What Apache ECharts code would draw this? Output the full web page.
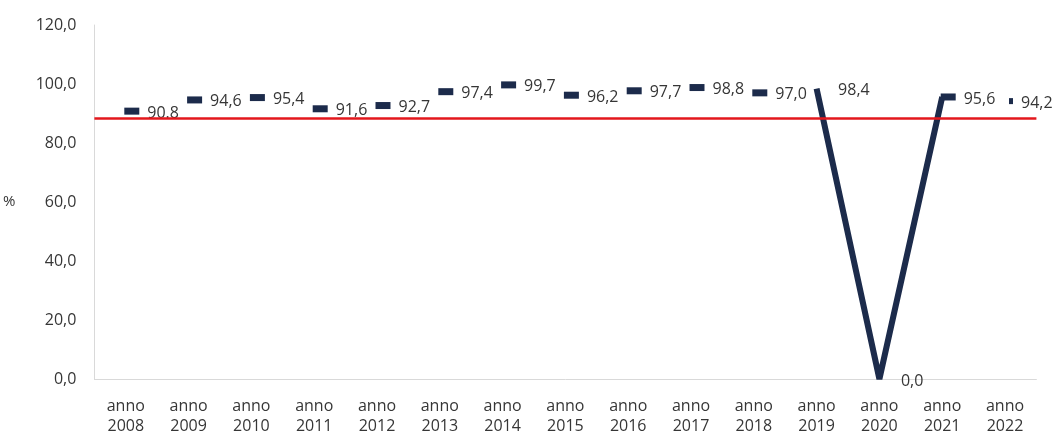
<!DOCTYPE html>
<html>
<head>
<meta charset="utf-8">
<script src="https://cdn.jsdelivr.net/npm/echarts@6/dist/echarts.min.js"></script>
<style>
  html, body { margin: 0; padding: 0; background: #ffffff; }
  #chart { width: 1059px; height: 436px; }
</style>
</head>
<body>
<div id="chart"></div>
<script>
// Yearly share (%) from 2008 to 2022, with a reference threshold
const years = ['2008', '2009', '2010', '2011', '2012', '2013', '2014', '2015',
               '2016', '2017', '2018', '2019', '2020', '2021', '2022'];
const values = [90.8, 94.6, 95.4, 91.6, 92.7, 97.4, 99.7, 96.2,
                97.7, 98.8, 97.0, 98.4, 0.0, 95.6, 94.2];
const valueLabels = ['90.8', '94,6', '95,4', '91,6', '92,7', '97,4', '99,7', '96,2',
                     '97,7', '98,8', '97,0', '98,4', '0,0', '95,6', '94,2'];
const threshold = 88.4;
const yTicks = { min: 0, max: 120, step: 20 };

// the 2019-2021 drop drawn as a solid segment
const dropYears = ['2019', '2020', '2021'];

const NAVY = '#1c2b4b';
const TEXT = '#363636';
const FONT = 'Open Sans';

const hiddenMarkers = ['2019', '2020'];
const mainData = values.map((v, i) => {
  const item = { value: v };
  if (hiddenMarkers.includes(years[i])) item.itemStyle = { color: 'rgba(0,0,0,0)' };
  return item;
});
const dropData = years.map((y, i) => dropYears.includes(y) ? values[i] : null);

const chart = echarts.init(document.getElementById('chart'), null, { renderer: 'canvas' });
chart.setOption({
  animation: false,
  backgroundColor: '#ffffff',
  textStyle: { fontFamily: FONT },
  grid: { left: 93.6, right: 22.6, top: 25, bottom: 52.7, containLabel: false },
  xAxis: {
    type: 'category',
    data: years,
    boundaryGap: true,
    axisLine: { show: true, lineStyle: { color: '#d9d9d9', width: 1 } },
    axisTick: { show: false },
    axisLabel: {
      color: TEXT, fontFamily: FONT, fontSize: 16, lineHeight: 20, margin: 17,
      formatter: y => 'anno\n' + y
    },
    splitLine: { show: false }
  },
  yAxis: {
    type: 'value',
    min: yTicks.min, max: yTicks.max, interval: yTicks.step,
    name: '%',
    nameLocation: 'middle',
    nameRotate: 0,
    nameGap: 79,
    nameTextStyle: { color: TEXT, fontFamily: FONT, fontSize: 15 },
    axisLine: { show: true, lineStyle: { color: '#d9d9d9', width: 1 } },
    axisTick: { show: false },
    splitLine: { show: false },
    axisLabel: {
      color: TEXT, fontFamily: FONT, fontSize: 16, margin: 18,
      formatter: v => v.toFixed(1).replace('.', ',')
    }
  },
  series: [
    {
      name: 'drop',
      type: 'line',
      data: dropData,
      connectNulls: false,
      symbol: 'none',
      lineStyle: { color: NAVY, width: 6 },
      z: 3
    },
    {
      name: 'valori',
      type: 'line',
      data: mainData,
      symbol: 'rect',
      symbolSize: (v, p) => p.dataIndex === years.length - 1 ? [4, 6] : [15, 7],
      symbolOffset: [6, 0],
      itemStyle: { color: NAVY },
      lineStyle: { width: 0, opacity: 0 },
      label: {
        show: true,
        position: 'right',
        distance: 8,
        offset: [0, 2],
        color: TEXT,
        fontFamily: FONT,
        fontSize: 16,
        formatter: p => valueLabels[p.dataIndex]
      },
      markLine: {
        silent: true,
        symbol: 'none',
        label: { show: false },
        lineStyle: { color: '#e3171c', width: 2.5, type: 'solid' },
        data: [{ yAxis: threshold }]
      },
      z: 4
    }
  ]
});
</script>
</body>
</html>
